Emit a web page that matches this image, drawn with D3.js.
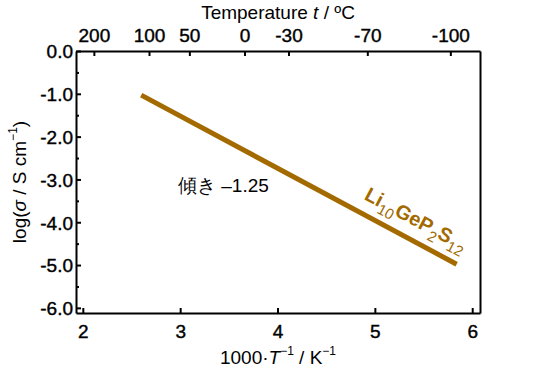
<!DOCTYPE html>
<html>
<meta charset="utf-8">
<head>
    <script src="https://d3js.org/d3.v7.min.js"></script>
    <style>
        body { margin: 0; background: #fff; }
        text { font-family: "Liberation Sans", Arial, sans-serif; }
    </style>
</head>
<body>
    <div id="my_dataviz"></div>
</body>

<script>
    // data
    const invT = [2.6, 5.84];          // 1000/T endpoints
    const logSigma = [-1.03, -4.98];   // log(sigma) endpoints
    const xTicks = [2, 3, 4, 5, 6];
    const yTicks = [0, -1, -2, -3, -4, -5, -6];
    const yMinor = [-0.5, -1.5, -2.5, -3.5, -4.5, -5.5];
    const tempTicks = [200, 100, 50, 0, -30, -70, -100];
    const seriesLabel = "Li10GeP2S12";
    const slopeLabel = "傾き –1.25";

    const W = 533, H = 371;
    const margin = { top: 51, right: 53, bottom: 58, left: 76 },
        width = W - margin.left - margin.right,
        height = H - margin.top - margin.bottom;
    const color = "#a36a00";

    const svg = d3.select("#my_dataviz")
        .append("svg")
            .attr("width", W)
            .attr("height", H)
        .append("g")
            .attr("transform", `translate(${margin.left}, ${margin.top})`);

    const x = d3.scaleLinear().domain([1.93, 6.08]).range([0, width]);
    const y = d3.scaleLinear().domain([-6.12, 0]).range([height, 0]);

    // bottom axis
    svg.append("g")
        .attr("transform", `translate(0, ${height})`)
        .call(d3.axisBottom(x).tickValues(xTicks).tickFormat(d3.format("d")).tickSizeInner(-5).tickSizeOuter(0).tickPadding(12));

    // top axis (temperature)
    svg.append("g")
        .call(d3.axisTop(x).tickValues(tempTicks.map(t => 1000 / (t + 273.15)))
            .tickFormat((d, i) => tempTicks[i]).tickSizeInner(-5).tickSizeOuter(0).tickPadding(9));

    // left axis
    const yl = svg.append("g")
        .call(d3.axisLeft(y).tickValues(yTicks).tickFormat(d => d.toFixed(1)).tickSizeInner(-5).tickSizeOuter(0).tickPadding(3));
    svg.append("g")
        .call(d3.axisLeft(y).tickValues(yMinor).tickFormat("").tickSizeInner(-3).tickSizeOuter(0))
        .select(".domain").remove();

    // right edge
    svg.append("g")
        .attr("transform", `translate(${width}, 0)`)
        .call(d3.axisRight(y).tickValues([]).tickSizeOuter(0));

    svg.selectAll(".domain").attr("stroke", "#000").attr("stroke-width", 2);
    svg.selectAll(".tick line").attr("stroke", "#000").attr("stroke-width", 2);
    svg.selectAll(".tick text")
        .attr("font-size", 19)
        .attr("font-family", "Liberation Sans, Arial, sans-serif")
        .attr("fill", "#000")
        .attr("stroke", "#000")
        .attr("stroke-width", 0.4);
    yl.selectAll(".tick text").attr("dy", "0.36em");

    // data line
    svg.append("path")
        .datum(invT.map((d, i) => [d, logSigma[i]]))
        .attr("d", d3.line().x(d => x(d[0])).y(d => y(d[1])))
        .attr("stroke", color)
        .attr("stroke-width", 5)
        .attr("fill", "none");

    // series label along the line
    const ang = Math.atan2(y(logSigma[1]) - y(logSigma[0]), x(invT[1]) - x(invT[0])) * 180 / Math.PI;
    const lab = svg.append("text")
        .attr("transform", `translate(${x(4.88)}, ${y(-3.45)}) rotate(${ang})`)
        .attr("fill", color)
        .attr("font-size", 20)
        .attr("font-weight", "bold");
    const parts = seriesLabel.match(/[A-Za-z]+|\d+/g);
    let sub = false;
    parts.forEach(p => {
        const isNum = /\d/.test(p);
        let dy = null;
        if (isNum && !sub) { dy = 6; sub = true; }
        else if (!isNum && sub) { dy = -6; sub = false; }
        lab.append("tspan")
            .attr("font-size", isNum ? 15 : 20)
            .attr("font-weight", isNum ? "normal" : "bold")
            .attr("dy", dy)
            .text(p);
    });

    // slope annotation
    svg.append("text")
        .attr("x", 178 - margin.left)
        .attr("y", 192 - margin.top)
        .attr("font-size", 19)
        .attr("font-family", "Noto Sans CJK JP, Liberation Sans, sans-serif")
        .text(slopeLabel);

    // axis titles
    const bt = svg.append("text")
        .attr("x", width / 2)
        .attr("y", height + 51)
        .attr("text-anchor", "middle")
        .attr("font-size", 19);
    bt.append("tspan").text("1000·");
    bt.append("tspan").attr("font-style", "italic").text("T");
    bt.append("tspan").attr("font-size", 12).attr("dy", -9).text("−1");
    bt.append("tspan").attr("dy", 9).text(" / K");
    bt.append("tspan").attr("font-size", 12).attr("dy", -9).text("−1");

    const tt = svg.append("text")
        .attr("x", width / 2)
        .attr("y", -32)
        .attr("text-anchor", "middle")
        .attr("font-size", 19);
    tt.append("tspan").text("Temperature ");
    tt.append("tspan").attr("font-style", "italic").text("t");
    tt.append("tspan").text(" / ºC");

    const lt = svg.append("text")
        .attr("transform", `translate(-50, ${height / 2}) rotate(-90)`)
        .attr("text-anchor", "middle")
        .attr("font-size", 19);
    lt.append("tspan").text("log(");
    lt.append("tspan").attr("font-style", "italic").text("σ");
    lt.append("tspan").text(" / S cm");
    lt.append("tspan").attr("font-size", 12).attr("dy", -9).text("−1");
    lt.append("tspan").attr("dy", 9).text(")");
</script>
</html>
